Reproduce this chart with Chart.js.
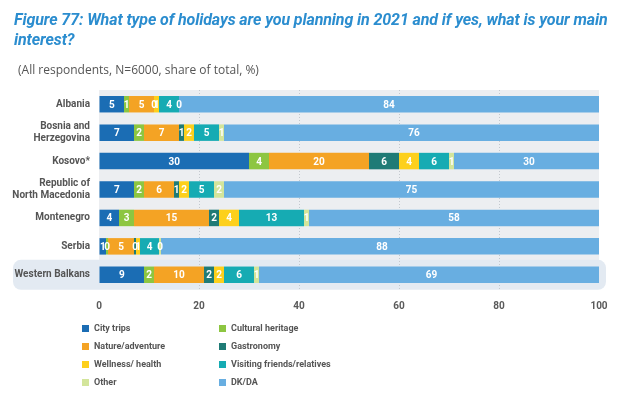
<!DOCTYPE html>
<html>
<head>
<meta charset="utf-8">
<script src="https://cdn.jsdelivr.net/npm/chart.js@4.4.1/dist/chart.umd.min.js"></script>
<style>
    html, body { margin: 0; padding: 0; background: #ffffff; }
    #wrap { position: relative; width: 640px; height: 396px; overflow: hidden; }
    #chart { position: absolute; left: 0; top: 0; }
    #title {
        position: absolute; left: 14px; top: 10px; width: 620px;
        font: italic bold 16px 'Roboto', sans-serif; color: #2b8dcf; line-height: 20px;
        letter-spacing: -0.1px;
    }
    #subtitle {
        position: absolute; left: 18px; top: 61px;
        font: 12px 'Open Sans', sans-serif; color: #555555;
    }
    #legend {
        position: absolute; left: 82px; top: 319px;
        display: grid; grid-template-columns: 137px 200px; grid-auto-rows: 18px;
        font: bold 9px 'Roboto', sans-serif; color: #555555;
    }
    .item { display: flex; align-items: center; }
    .box { width: 7px; height: 7px; margin-right: 5px; }
</style>
</head>
<body>
<div id="wrap">
    <canvas id="chart" width="640" height="396"></canvas>
    <div id="title">Figure 77: What type of holidays are you planning in 2021 and if yes, what is your main interest?</div>
    <div id="subtitle">(All respondents, N=6000, share of total, %)</div>
    <div id="legend"></div>
</div>
<script>
// =======================================
// data
// =======================================
const categories = [
    'Albania',
    ['Bosnia and', 'Herzegovina'],
    'Kosovo*',
    ['Republic of', 'North Macedonia'],
    'Montenegro',
    'Serbia',
    'Western Balkans',
];
const seriesNames = [
    'City trips', 'Cultural heritage', 'Nature/adventure', 'Gastronomy',
    'Wellness/ health', 'Visiting friends/relatives', 'Other', 'DK/DA',
];
// shares in %, labels show them rounded
const cityTrips = [5, 7, 30, 7, 4, 1.4, 9];
const culturalHeritage = [1, 2, 4, 2, 3, 0.4, 2];
const natureAdventure = [5, 7, 20, 6, 15, 5.2, 10];
const gastronomy = [0, 1, 6, 1, 2, 0.4, 2];
const wellnessHealth = [1, 2, 4, 2, 4, 0.8, 2];
const visitingFriends = [4, 5, 6, 5, 13, 3.8, 6];
const other = [0, 1, 1, 2, 1, 0.4, 1];
const dkDa = [84, 76, 30, 75, 58, 88.4, 69];
const xTicks = [0, 20, 40, 60, 80, 100];

const seriesValues = [cityTrips, culturalHeritage, natureAdventure, gastronomy,
    wellnessHealth, visitingFriends, other, dkDa];
const colors = ['#1b6db4', '#8dc641', '#f4a324', '#1f7b76', '#fdd01c', '#16abb3', '#d3e59b', '#68aee1'];

// legend: two columns, row by row
const legendEl = document.getElementById('legend');
seriesNames.forEach((name, i) => {
    const item = document.createElement('div');
    item.className = 'item';
    item.innerHTML = `<span class="box" style="background:${colors[i]}"></span><span>${name}</span>`;
    legendEl.appendChild(item);
});

const labelFont = "'Roboto', sans-serif";

// plot background + Western Balkans highlight
const backgroundPlugin = {
    id: 'plotBackground',
    beforeDraw: (chart) => {
        const { ctx, chartArea, scales } = chart;
        ctx.save();
        ctx.fillStyle = '#eceef1';
        ctx.fillRect(chartArea.left, chartArea.top, chartArea.right - chartArea.left, chartArea.bottom - chartArea.top);

        const yc = scales.y.getPixelForValue(categories.length - 1);
        ctx.fillStyle = '#e3eaf2';
        ctx.beginPath();
        ctx.roundRect(13, yc - 15, 593, 30, 8);
        ctx.fill();
        ctx.restore();
    },
};

// values inside each segment
const valueLabelPlugin = {
    id: 'valueLabels',
    afterDatasetsDraw: (chart) => {
        const ctx = chart.ctx;
        ctx.save();
        ctx.fillStyle = '#ffffff';
        ctx.font = `bold 10px ${labelFont}`;
        ctx.textAlign = 'center';
        ctx.textBaseline = 'middle';
        chart.data.datasets.forEach((dataset, datasetIndex) => {
            const meta = chart.getDatasetMeta(datasetIndex);
            meta.data.forEach((element, i) => {
                const value = Math.round(dataset.data[i]);
                const pos = element.getCenterPoint();
                ctx.fillText(String(value), pos.x, pos.y + 1);
            });
        });
        ctx.restore();
    },
};

new Chart(document.getElementById('chart').getContext('2d'), {
    type: 'bar',
    data: {
        labels: categories,
        datasets: seriesValues.map((values, i) => ({
            label: seriesNames[i],
            data: values,
            backgroundColor: colors[i],
            borderWidth: 0,
            barPercentage: 0.58,
            categoryPercentage: 1,
        })),
    },
    options: {
        indexAxis: 'y',
        responsive: false,
        animation: false,
        layout: { padding: { top: 90, right: 41, bottom: 77, left: 0 } },
        plugins: {
            legend: { display: false },
            tooltip: { enabled: false },
            title: { display: false },
        },
        scales: {
            x: {
                stacked: true,
                min: 0,
                max: 100,
                afterBuildTicks: (scale) => {
                    scale.ticks = xTicks.map((v) => ({ value: v }));
                },
                afterFit: (scale) => { scale.height = 30; },
                grid: {
                    drawTicks: false,
                    color: (ctx) => (ctx.tick && (ctx.tick.value === 0 || ctx.tick.value === 100) ? 'rgba(0,0,0,0)' : '#c3c8ce'),
                    lineWidth: 1,
                },
                border: { display: false, dash: [1, 2] },
                ticks: {
                    padding: 11,
                    color: '#5a5a5a',
                    font: { family: labelFont, size: 10, weight: 'bold' },
                },
            },
            y: {
                stacked: true,
                afterFit: (scale) => { scale.width = 99; },
                grid: { display: false, drawTicks: false },
                border: { display: false },
                ticks: {
                    padding: 9,
                    color: '#555555',
                    font: { family: labelFont, size: 10, weight: 'bold', lineHeight: 1.2 },
                },
            },
        },
    },
    plugins: [backgroundPlugin, valueLabelPlugin],
});
</script>
</body>
</html>
